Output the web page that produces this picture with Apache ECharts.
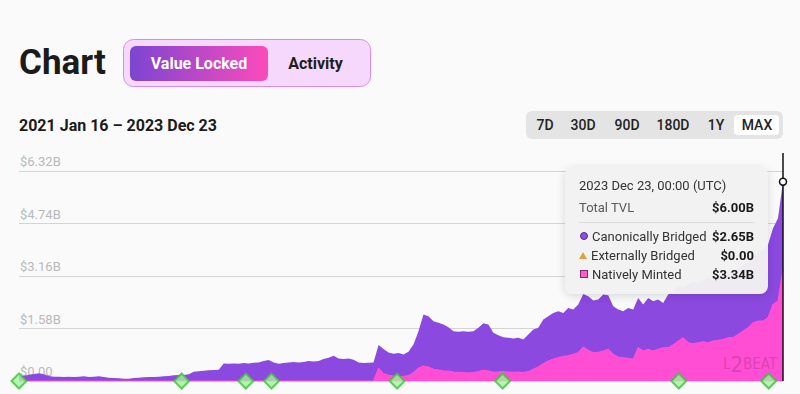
<!DOCTYPE html>
<html>
<head>
<meta charset="utf-8">
<script src="https://cdn.jsdelivr.net/npm/echarts@6/dist/echarts.min.js"></script>
<style>
html,body{margin:0;padding:0;background:#fafafa;}
#c{width:800px;height:394px;}
</style>
</head>
<body>
<div id="c"></div>
<script>
// ---------- data ----------
const startDate = '2021-01-16';
const stepDays = 7;
const dateRangeLabel = '2021 Jan 16 – 2023 Dec 23';
const tooltipDateLabel = '2023 Dec 23, 00:00 (UTC)';

// Canonically Bridged (billions USD), weekly
const canonicalBridged = [
  0.14,0.16,0.19,0.21,0.23,0.20,0.15,0.13,0.13,0.12,
  0.13,0.12,0.13,0.14,0.12,0.13,0.14,0.12,0.10,0.09,
  0.08,0.07,0.07,0.09,0.10,0.11,0.12,0.12,0.13,0.14,
  0.15,0.17,0.18,0.18,0.20,0.28,0.29,0.31,0.32,0.33,
  0.34,0.53,0.52,0.53,0.52,0.54,0.53,0.55,0.56,0.60,
  0.63,0.56,0.52,0.54,0.56,0.57,0.56,0.57,0.60,0.59,
  0.60,0.66,0.70,0.76,0.68,0.66,0.68,0.64,0.56,0.54,
  0.55,0.56,0.70,0.74,0.69,0.67,0.71,0.66,0.72,0.85,
  1.12,1.55,1.53,1.45,1.42,1.40,1.32,1.23,1.22,1.25,
  1.24,1.25,1.32,1.42,1.40,1.19,1.11,1.04,1.03,1.02,
  1.03,1.00,1.12,1.20,1.18,1.33,1.35,1.39,1.40,1.31,
  1.44,1.35,1.45,1.60,1.63,1.57,1.59,1.70,1.63,1.45,
  1.43,1.40,1.52,1.50,1.50,1.40,1.55,1.50,1.50,1.35,
  1.60,1.62,1.65,1.50,1.75,1.88,1.80,1.87,1.95,1.80,
  1.93,1.95,1.95,2.00,2.00,2.00,2.00,2.00,2.05,2.15,
  2.20,2.30,2.50,2.654
];

// Natively Minted (billions USD), weekly
const nativelyMinted = [
  0,0,0,0,0,0,0,0,0,0,
  0,0,0,0,0,0,0,0,0,0,
  0,0,0,0,0,0,0,0,0,0,
  0,0,0,0,0,0,0,0,0,0,
  0,0,0,0,0,0,0,0,0,0,
  0,0,0,0,0,0,0,0,0,0,
  0,0,0,0,0,0,0,0,0,0,
  0,0,0.38,0.22,0.17,0.15,0.13,0.14,0.16,0.25,
  0.38,0.45,0.42,0.35,0.33,0.30,0.30,0.27,0.26,0.25,
  0.24,0.25,0.28,0.32,0.30,0.26,0.27,0.28,0.27,0.26,
  0.27,0.25,0.28,0.35,0.42,0.52,0.60,0.66,0.70,0.74,
  0.76,0.80,0.85,1.02,0.92,0.85,0.86,0.90,0.95,0.80,
  0.72,0.70,0.68,0.65,1.00,0.90,0.95,0.90,0.95,1.00,
  1.00,1.08,1.20,1.30,1.15,1.12,1.15,1.18,1.15,1.20,
  1.22,1.25,1.30,1.30,1.40,1.50,1.60,1.75,1.80,1.80,
  1.90,2.30,2.40,3.344
];

const externallyBridgedLast = 0;

const milestoneDates = [
  '2021-01-16','2021-09-01','2021-11-30','2022-01-05',
  '2022-06-30','2022-11-25','2023-07-30','2023-12-03'
];

const yTickInterval = 1.58;
const yTickMax = 6.32;
const rangeButtons = ['7D','30D','90D','180D','1Y','MAX'];
const toggleLabels = ['Value Locked','Activity'];

// ---------- build ----------
const DAY = 86400000;
const t0 = Date.parse(startDate + 'T00:00:00Z');
const dates = canonicalBridged.map((_, i) => t0 + i * stepDays * DAY);
const tEnd = dates[dates.length - 1];
const nativeData = nativelyMinted.map((v, i) => [dates[i], v]);
const canonData = canonicalBridged.map((v, i) => [dates[i], v]);
const milestoneData = milestoneDates.map(d => [Date.parse(d + 'T00:00:00Z'), 0]);

const PURPLE = '#7f43cc';
const PINK = '#fe47c0';
const FONT = 'Roboto, "Noto Sans", sans-serif';
const fmtB = v => v === 0 ? '$0.00' : '$' + v.toFixed(2) + 'B';

const chart = echarts.init(document.getElementById('c'), null, {renderer: 'svg'});

const last = dates.length - 1;
const lastCanon = canonicalBridged[last];
const lastNative = nativelyMinted[last];
const lastTotal = lastCanon + lastNative + externallyBridgedLast;

function tooltipHtml() {
  const row = (icon, label, val) =>
    '<div style="display:flex;justify-content:space-between;align-items:center;height:19px;line-height:19px;">' +
    '<span style="display:flex;align-items:center;color:#333;">' + icon +
    '<span style="margin-left:4px;">' + label + '</span></span>' +
    '<span style="font-weight:700;color:#1a1a1a;">' + val + '</span></div>';
  const circle = '<span style="display:inline-block;width:6px;height:6px;border-radius:50%;background:#8d52dc;border:1px solid #5a2a9a;margin-left:1px;"></span>';
  const tri = '<span style="display:inline-block;width:0;height:0;border-left:4px solid transparent;border-right:4px solid transparent;border-bottom:7px solid #e0a040;"></span>';
  const sq = '<span style="display:inline-block;width:6px;height:6px;background:#ff5cc8;border:1px solid #8a2a6a;margin-left:1px;"></span>';
  return '<div style="width:175px;padding:10px 14px;font-family:' + FONT.replace(/"/g, "'") + ';font-size:13px;">' +
    '<div style="height:18px;line-height:18px;color:#333;">' + tooltipDateLabel + '</div>' +
    '<div style="margin-top:4px;height:18px;line-height:18px;display:flex;justify-content:space-between;">' +
    '<span style="color:#5a5a5a;">Total TVL</span><span style="font-weight:700;color:#1a1a1a;">' + fmtB(lastTotal) + '</span></div>' +
    '<div style="margin-top:5px;height:1px;background:#dcdcdc;"></div>' +
    '<div style="margin-top:3.5px;">' +
    row(circle, 'Canonically Bridged', fmtB(lastCanon)) +
    row(tri, 'Externally Bridged', fmtB(externallyBridgedLast)) +
    row(sq, 'Natively Minted', fmtB(lastNative)) +
    '</div></div>';
}

chart.setOption({
  animation: false,
  backgroundColor: '#fafafa',
  textStyle: {fontFamily: FONT},
  grid: {left: 19, right: 17, top: 171, bottom: 13, containLabel: false},
  xAxis: {
    type: 'time', min: t0, max: tEnd,
    axisLine: {show: false}, axisTick: {show: false},
    axisLabel: {show: false}, splitLine: {show: false}
  },
  yAxis: {
    type: 'value', min: 0, max: yTickMax, interval: yTickInterval,
    axisLine: {show: false}, axisTick: {show: false},
    axisLabel: {
      inside: true, margin: 1, color: '#b9b9b9', fontSize: 13,
      fontFamily: FONT, verticalAlign: 'bottom', padding: [0, 0, 3, 0],
      formatter: v => fmtB(v)
    },
    splitLine: {lineStyle: {color: '#d4d4d4', width: 1}}
  },
  tooltip: {
    trigger: 'axis', triggerOn: 'none', alwaysShowContent: true,
    transitionDuration: 0, padding: 0, borderWidth: 0,
    backgroundColor: 'rgba(242,242,242,0.97)',
    extraCssText: 'border-radius:8px;box-shadow:0 2px 10px rgba(0,0,0,0.14);',
    axisPointer: {type: 'none'},
    position: () => [565, 167],
    formatter: () => tooltipHtml()
  },
  series: [
    {
      name: 'Natively Minted', type: 'line', stack: 'tvl', data: nativeData,
      symbol: 'none', z: 3,
      lineStyle: {color: PINK, width: 1.2},
      areaStyle: {color: PINK, opacity: 1}
    },
    {
      name: 'Canonically Bridged', type: 'line', stack: 'tvl', data: canonData,
      symbol: 'none', z: 2,
      lineStyle: {width: 0},
      areaStyle: {color: PURPLE, opacity: 1}
    },
    {
      name: 'Milestones', type: 'scatter', data: milestoneData,
      symbol: 'diamond', symbolSize: 15, z: 10, clip: false,
      itemStyle: {color: '#a3f49c', borderColor: '#3cc23c', borderWidth: 2},
      tooltip: {show: false}
    }
  ]
});

// positions from the library's scales
const endPt = chart.convertToPixel({xAxisIndex: 0, yAxisIndex: 0}, [tEnd, lastTotal]);
const basePt = chart.convertToPixel({xAxisIndex: 0, yAxisIndex: 0}, [tEnd, 0]);

const rangeX = [545, 583, 627, 673, 716, 757];
const graphics = [
  {type: 'text', left: 19, top: 45, style: {text: 'Chart', font: 'bold 35px ' + FONT, fill: '#1b1b1b'}},
  {type: 'rect', shape: {x: 123.5, y: 39.5, width: 247, height: 47, r: 10},
   style: {fill: '#f5d8fc', stroke: '#dc8ae6', lineWidth: 1}},
  {type: 'rect', shape: {x: 130, y: 46, width: 138, height: 35, r: 6},
   style: {fill: new echarts.graphic.LinearGradient(0, 0, 1, 0, [
     {offset: 0, color: '#7c45d2'}, {offset: 1, color: '#fc4bba'}])}},
  {type: 'text', x: 199, y: 63, style: {text: toggleLabels[0], font: 'bold 16px ' + FONT, fill: '#ffffff', align: 'center', verticalAlign: 'middle'}},
  {type: 'text', x: 315.5, y: 63, style: {text: toggleLabels[1], font: 'bold 16px ' + FONT, fill: '#1e1e1e', align: 'center', verticalAlign: 'middle'}},
  {type: 'text', x: 19, y: 125, style: {text: dateRangeLabel, font: 'bold 16px ' + FONT, fill: '#1b1b1b', align: 'left', verticalAlign: 'middle'}},
  {type: 'rect', shape: {x: 526, y: 111, width: 257, height: 28, r: 6}, style: {fill: '#e4e4e4'}},
  {type: 'rect', shape: {x: 734, y: 115, width: 45, height: 20, r: 4}, style: {fill: '#ffffff'}},
  {type: 'line', shape: {x1: endPt[0], y1: 153, x2: endPt[0], y2: basePt[1]},
   style: {stroke: '#111111', lineWidth: 1.5}, z: 20},
  {type: 'circle', shape: {cx: endPt[0], cy: endPt[1], r: 3.5},
   style: {fill: '#ffffff', stroke: '#111111', lineWidth: 1.5}, z: 21},
  {type: 'text', x: 750, y: 364, z: 15, style: {
    text: '{a|L}{b|2}{a|BEAT}', align: 'center', verticalAlign: 'middle',
    rich: {
      a: {font: '15px "DejaVu Sans Condensed", ' + FONT, fill: 'rgba(90,20,80,0.24)'},
      b: {font: '22px "DejaVu Sans Condensed", ' + FONT, fill: 'rgba(90,20,80,0.24)'}
    }
  }}
];
rangeButtons.forEach((lab, i) => {
  graphics.push({type: 'text', x: rangeX[i], y: 125, style: {
    text: lab, font: '500 14px ' + FONT, fill: '#222222', align: 'center', verticalAlign: 'middle'}});
});
chart.setOption({graphic: graphics});

chart.dispatchAction({type: 'showTip', seriesIndex: 1, dataIndex: last});
</script>
</body>
</html>
